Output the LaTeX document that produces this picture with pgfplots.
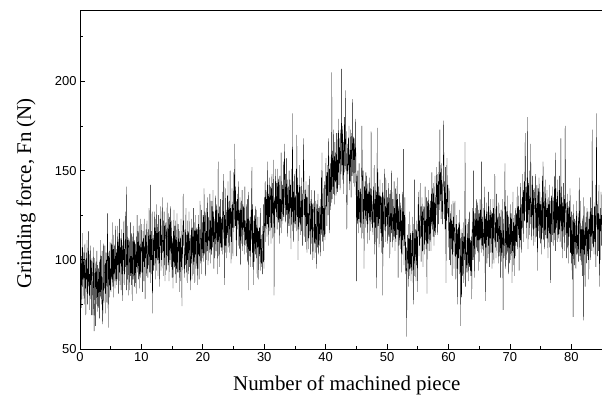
\documentclass[border=0pt]{standalone}
\usepackage{fontspec}
\setmainfont{Liberation Serif}
\newfontfamily\ticksans{Liberation Sans}
\usepackage{pgfplots}
\pgfplotsset{compat=1.18}
\usepackage{pgfplotstable}
% one value every 0.05 machined piece, starting at 0 (20 values per piece)
\pgfplotstableread[row sep=\\, header=false]{
98\\81\\111\\89\\102\\73\\96\\107\\85\\115\\78\\99\\90\\104\\75\\95\\109\\84\\100\\69\\
84\\104\\89\\111\\75\\95\\81\\99\\116\\85\\92\\72\\103\\86\\108\\78\\100\\69\\94\\101\\
96\\83\\69\\92\\107\\77\\60\\72\\101\\85\\63\\94\\99\\75\\90\\105\\80\\71\\97\\84\\
73\\95\\90\\67\\99\\82\\111\\79\\88\\102\\75\\84\\105\\70\\64\\78\\109\\83\\76\\93\\
93\\108\\81\\98\\70\\104\\87\\100\\76\\111\\126\\95\\62\\102\\89\\105\\79\\96\\110\\83\\
95\\82\\109\\103\\89\\121\\85\\99\\106\\79\\114\\92\\108\\96\\84\\119\\101\\88\\104\\86\\
106\\89\\119\\97\\110\\81\\104\\115\\93\\123\\86\\107\\98\\112\\83\\103\\117\\92\\108\\77\\
95\\115\\100\\122\\86\\106\\92\\110\\127\\96\\103\\83\\141\\97\\119\\89\\111\\80\\105\\112\\
110\\97\\83\\106\\121\\91\\102\\86\\115\\99\\77\\108\\113\\89\\104\\119\\94\\85\\111\\98\\
87\\109\\104\\81\\113\\96\\125\\93\\102\\116\\89\\98\\119\\84\\108\\92\\123\\97\\90\\107\\
105\\120\\93\\110\\82\\116\\99\\112\\88\\123\\96\\107\\78\\114\\101\\117\\91\\108\\122\\95\\
103\\90\\117\\111\\97\\129\\93\\107\\114\\87\\142\\100\\116\\104\\92\\127\\70\\96\\112\\94\\
114\\97\\127\\105\\118\\89\\112\\123\\101\\131\\94\\115\\106\\120\\91\\111\\125\\100\\116\\85\\
103\\123\\108\\130\\94\\114\\100\\118\\135\\104\\111\\91\\122\\105\\127\\97\\119\\88\\113\\120\\
121\\108\\94\\117\\132\\102\\113\\97\\126\\110\\88\\119\\124\\100\\115\\130\\105\\96\\122\\109\\
90\\112\\107\\84\\116\\99\\128\\96\\105\\119\\92\\101\\122\\87\\111\\95\\126\\100\\93\\110\\
105\\120\\93\\110\\82\\116\\99\\112\\88\\123\\96\\107\\74\\114\\101\\117\\137\\108\\122\\95\\
103\\90\\117\\111\\97\\129\\93\\107\\114\\87\\122\\100\\116\\104\\92\\127\\109\\96\\112\\94\\
83\\114\\98\\123\\109\\89\\118\\104\\113\\92\\129\\99\\121\\110\\87\\116\\103\\125\\95\\112\\
118\\111\\86\\117\\95\\125\\103\\120\\89\\109\\102\\133\\116\\98\\112\\92\\128\\106\\121\\101\\
112\\125\\99\\108\\140\\118\\103\\127\\122\\91\\113\\129\\100\\116\\105\\135\\120\\97\\111\\124\\
121\\104\\111\\137\\106\\122\\98\\133\\112\\103\\130\\116\\107\\139\\110\\127\\95\\118\\123\\101\\
109\\136\\122\\105\\131\\115\\128\\92\\121\\110\\155\\102\\126\\113\\130\\96\\124\\107\\134\\119\\
105\\123\\107\\120\\138\\103\\115\\127\\148\\133\\86\\125\\118\\104\\140\\108\\122\\128\\101\\114\\
136\\114\\144\\107\\128\\119\\133\\104\\124\\150\\113\\129\\98\\127\\110\\140\\118\\131\\102\\125\\
132\\149\\118\\125\\165\\136\\119\\141\\111\\133\\102\\127\\134\\117\\137\\122\\144\\108\\128\\114\\
106\\135\\119\\97\\128\\133\\109\\124\\139\\114\\105\\131\\118\\130\\117\\103\\126\\141\\111\\122\\
108\\117\\131\\104\\113\\134\\99\\123\\83\\138\\112\\105\\122\\102\\124\\119\\96\\128\\111\\140\\
152\\96\\131\\104\\115\\86\\122\\109\\125\\99\\116\\130\\103\\113\\128\\101\\118\\90\\124\\107\\
109\\116\\89\\124\\102\\118\\106\\94\\129\\111\\98\\114\\96\\105\\92\\119\\113\\99\\131\\95\\
104\\135\\119\\144\\130\\110\\139\\125\\134\\113\\155\\120\\142\\131\\108\\137\\124\\146\\116\\133\\
141\\134\\109\\140\\118\\148\\126\\143\\112\\132\\125\\156\\80\\121\\135\\115\\151\\129\\144\\124\\
130\\143\\117\\126\\151\\136\\121\\145\\140\\109\\131\\147\\118\\134\\123\\160\\138\\115\\129\\142\\
139\\122\\129\\155\\124\\140\\165\\151\\130\\121\\148\\134\\125\\157\\128\\145\\113\\136\\141\\119\\
123\\150\\136\\119\\145\\129\\142\\106\\135\\124\\151\\116\\182\\127\\144\\110\\138\\121\\148\\133\\
118\\136\\120\\133\\151\\116\\170\\140\\124\\146\\100\\138\\131\\117\\153\\121\\135\\141\\114\\127\\
133\\116\\146\\124\\137\\108\\131\\142\\168\\150\\113\\134\\125\\139\\110\\130\\144\\119\\135\\104\\
115\\135\\120\\142\\106\\126\\112\\130\\147\\116\\123\\103\\134\\117\\139\\109\\131\\100\\125\\132\\
128\\115\\101\\124\\139\\109\\120\\104\\133\\117\\95\\126\\131\\107\\122\\137\\112\\103\\129\\116\\
108\\130\\125\\102\\134\\117\\146\\114\\160\\137\\110\\119\\140\\105\\129\\113\\144\\118\\111\\128\\
142\\157\\130\\147\\119\\153\\136\\149\\125\\160\\168\\144\\115\\151\\138\\154\\128\\145\\159\\132\\
205\\134\\161\\155\\141\\173\\137\\151\\158\\131\\166\\144\\160\\148\\136\\171\\153\\140\\156\\138\\
171\\149\\179\\142\\163\\154\\168\\139\\159\\173\\148\\164\\207\\162\\145\\175\\153\\166\\137\\160\\
163\\180\\149\\156\\195\\167\\150\\172\\142\\117\\133\\158\\165\\148\\168\\153\\175\\139\\159\\145\\
144\\173\\157\\135\\166\\171\\147\\162\\190\\152\\143\\169\\156\\168\\155\\141\\164\\179\\149\\160\\
88\\133\\147\\120\\129\\150\\115\\139\\123\\154\\128\\121\\138\\118\\140\\135\\112\\144\\175\\156\\
139\\115\\150\\123\\134\\95\\141\\128\\144\\118\\135\\149\\122\\132\\147\\120\\137\\109\\143\\126\\
131\\138\\111\\146\\124\\140\\128\\116\\172\\133\\120\\136\\118\\127\\114\\141\\135\\121\\153\\117\\
103\\134\\118\\143\\129\\84\\138\\124\\174\\112\\149\\119\\141\\130\\107\\136\\123\\145\\115\\132\\
136\\129\\104\\135\\113\\143\\80\\138\\107\\127\\120\\151\\134\\116\\130\\110\\146\\124\\139\\119\\
122\\135\\109\\118\\143\\128\\113\\137\\132\\101\\123\\139\\110\\126\\115\\150\\130\\107\\121\\134\\
128\\111\\118\\144\\113\\129\\105\\140\\119\\110\\137\\123\\114\\146\\117\\134\\90\\125\\130\\108\\
110\\137\\123\\106\\132\\116\\129\\93\\122\\111\\138\\103\\127\\114\\162\\97\\125\\108\\135\\120\\
92\\110\\94\\107\\57\\90\\102\\114\\98\\120\\85\\112\\105\\91\\127\\95\\109\\115\\88\\101\\
111\\94\\124\\102\\115\\86\\75\\120\\98\\145\\91\\112\\103\\117\\88\\108\\122\\97\\113\\82\\
111\\131\\116\\138\\102\\122\\108\\126\\143\\112\\119\\99\\130\\113\\135\\105\\127\\96\\121\\128\\
130\\117\\103\\126\\141\\111\\122\\106\\135\\119\\81\\128\\133\\109\\124\\139\\114\\105\\131\\118\\
111\\133\\128\\105\\137\\120\\149\\117\\126\\140\\113\\122\\143\\108\\132\\116\\147\\121\\114\\131\\
137\\152\\125\\142\\114\\148\\131\\144\\120\\155\\128\\139\\173\\146\\133\\149\\123\\140\\154\\127\\
133\\120\\147\\141\\178\\159\\123\\137\\144\\117\\152\\130\\87\\134\\122\\157\\139\\126\\142\\124\\
129\\107\\140\\100\\121\\112\\126\\97\\117\\131\\106\\122\\91\\120\\103\\133\\111\\124\\95\\118\\
116\\133\\102\\109\\89\\120\\103\\125\\95\\117\\75\\111\\118\\101\\121\\106\\128\\92\\112\\98\\
63\\117\\101\\79\\110\\115\\91\\106\\121\\96\\87\\113\\100\\112\\166\\85\\108\\123\\93\\104\\
97\\106\\120\\93\\102\\123\\88\\112\\96\\127\\101\\94\\111\\91\\113\\108\\78\\117\\100\\129\\
124\\100\\150\\108\\119\\90\\126\\113\\129\\103\\120\\134\\107\\117\\132\\105\\122\\94\\128\\111\\
119\\126\\99\\134\\112\\128\\116\\104\\155\\121\\108\\124\\106\\115\\102\\129\\123\\109\\141\\105\\
77\\123\\107\\132\\118\\98\\127\\113\\122\\101\\138\\108\\130\\119\\96\\125\\112\\134\\104\\121\\
127\\120\\95\\126\\104\\134\\112\\129\\98\\118\\111\\148\\125\\107\\121\\101\\137\\115\\130\\110\\
111\\124\\98\\107\\132\\117\\102\\126\\121\\90\\112\\128\\99\\115\\104\\134\\119\\96\\72\\123\\
118\\101\\108\\134\\154\\119\\95\\130\\109\\100\\127\\113\\104\\136\\107\\124\\92\\115\\120\\98\\
104\\131\\117\\100\\126\\110\\123\\87\\116\\105\\138\\97\\121\\108\\125\\91\\119\\102\\129\\114\\
108\\126\\110\\123\\141\\106\\118\\130\\114\\136\\94\\128\\121\\107\\143\\111\\125\\131\\104\\117\\
135\\118\\148\\126\\139\\110\\133\\144\\122\\152\\171\\136\\127\\141\\112\\132\\146\\121\\180\\106\\
123\\143\\128\\150\\114\\134\\120\\138\\165\\124\\131\\111\\142\\125\\147\\117\\139\\108\\133\\140\\
137\\124\\110\\133\\148\\118\\129\\113\\142\\126\\94\\135\\140\\116\\131\\146\\121\\112\\138\\125\\
109\\131\\126\\103\\135\\118\\147\\115\\155\\138\\111\\120\\141\\106\\130\\114\\145\\119\\112\\129\\
124\\139\\112\\129\\101\\135\\118\\131\\107\\142\\115\\126\\87\\133\\120\\136\\110\\127\\141\\114\\
121\\108\\135\\129\\115\\147\\111\\125\\160\\105\\140\\118\\134\\122\\110\\145\\127\\114\\130\\112\\
139\\117\\147\\110\\131\\122\\168\\107\\127\\141\\116\\132\\101\\130\\113\\143\\121\\134\\105\\128\\
175\\145\\114\\121\\101\\132\\115\\137\\107\\129\\98\\123\\130\\113\\133\\118\\140\\104\\124\\110\\
98\\127\\111\\89\\120\\125\\68\\116\\131\\106\\97\\123\\110\\122\\109\\95\\118\\133\\103\\114\\
103\\112\\126\\99\\108\\129\\146\\118\\102\\133\\107\\100\\117\\97\\119\\114\\91\\123\\106\\135\\
66\\95\\130\\103\\114\\85\\121\\108\\124\\98\\115\\129\\102\\112\\127\\100\\117\\89\\123\\106\\
120\\127\\100\\135\\113\\129\\117\\105\\173\\122\\109\\125\\107\\116\\103\\130\\124\\110\\142\\106\\
96\\127\\182\\136\\122\\102\\131\\117\\126\\105\\142\\112\\85\\123\\100\\129\\116\\138\\108\\125\\
}\forcedata
\begin{document}
\begin{tikzpicture}
\begin{axis}[
  scale only axis, width=522bp, height=339bp,
  xmin=0, xmax=85, ymin=50, ymax=240,
  xtick={0,10,...,80}, ytick={50,100,150,200},
  minor xtick={5,15,...,75}, minor ytick={75,125,175,225},
  tick align=inside, xtick pos=bottom, ytick pos=left,
  major tick length=5bp, minor tick length=3bp,
  every tick/.style={black, line width=0.7bp},
  axis line style={black, line width=0.9bp},
  tick label style={font=\ticksans\fontsize{13}{15}\selectfont},
  /pgf/number format/assume math mode=true,
  xlabel={Number of machined piece},
  ylabel={Grinding force, Fn (N)},
  label style={font=\fontsize{21}{24}\selectfont},
  xlabel style={at={(axis description cs:0.511,-0.1062)}, anchor=center},
  ylabel style={at={(axis description cs:-0.1034,0.459)}, anchor=center},
]
\addplot[black, line width=0.3bp, mark=none] table[x expr=\coordindex/20, y index=0] {\forcedata};
\end{axis}
\pgfresetboundingbox
\path[use as bounding box] ([xshift=-80bp,yshift=-52bp]current axis.south west) rectangle ([yshift=10bp]current axis.north east);
\end{tikzpicture}
\end{document}
